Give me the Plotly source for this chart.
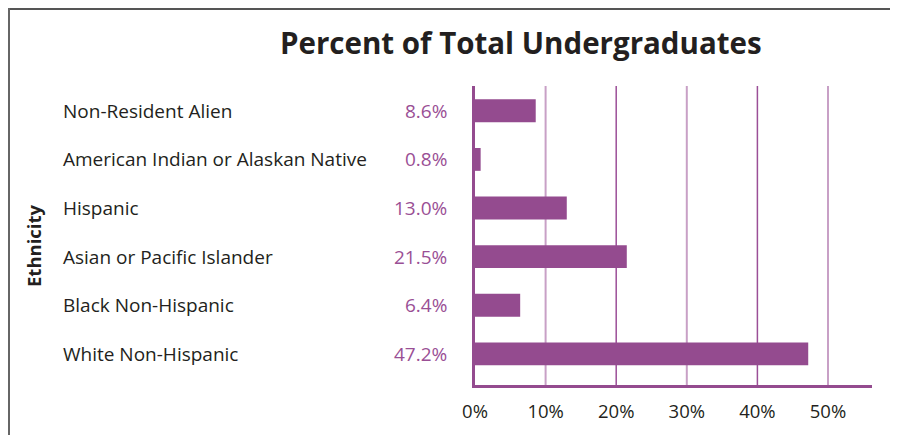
import plotly.graph_objects as go

categories = ["Non-Resident Alien", "American Indian or Alaskan Native", "Hispanic",
              "Asian or Pacific Islander", "Black Non-Hispanic", "White Non-Hispanic"]
values = [8.6, 0.8, 13.0, 21.5, 6.4, 47.2]
value_labels = ["8.6%", "0.8%", "13.0%", "21.5%", "6.4%", "47.2%"]
tick_values = [0, 10, 20, 30, 40, 50]
tick_labels = ["0%", "10%", "20%", "30%", "40%", "50%"]
light_grid = [10, 30, 50]
dark_grid = [20, 40]

OFF = 8  # page body margin
W, H = 890, 427
L, T = 475 - OFF, 86 - OFF
R = W - (872 - OFF)
B = H - (385 - OFF)
PW = W - L - R
PH = H - T - B

BAR = "#944b8f"
FONT = "Open Sans"

def px(xpix):
    return (xpix - OFF - L) / PW

def py(ypix):
    return 1 - (ypix - OFF - T) / PH

fig = go.Figure()
fig.add_trace(go.Bar(y=categories, x=values, orientation="h",
                     marker=dict(color=BAR, line=dict(width=0)),
                     width=0.47, hoverinfo="x+y"))

shapes = []
for v in light_grid:
    shapes.append(dict(type="line", xref="x", yref="paper", x0=v, x1=v, y0=0, y1=1,
                       line=dict(color="#c8a0c6", width=2), layer="below"))
for v in dark_grid:
    shapes.append(dict(type="line", xref="x", yref="paper", x0=v, x1=v, y0=0, y1=1,
                       line=dict(color="#9b4f97", width=1.5), layer="below"))
# frame
shapes.append(dict(type="line", xref="paper", yref="paper", x0=px(8), x1=px(898), y0=py(9), y1=py(9),
                   line=dict(color="#555555", width=2)))
shapes.append(dict(type="line", xref="paper", yref="paper", x0=px(9), x1=px(9), y0=py(8), y1=py(440),
                   line=dict(color="#666666", width=2)))

annotations = []
for c, lab in zip(categories, value_labels):
    annotations.append(dict(x=px(61), xref="paper", y=c, yref="y", text=c, showarrow=False,
                            xanchor="left", yanchor="middle",
                            font=dict(family=FONT, size=19, color="#231f20")))
    annotations.append(dict(x=px(449), xref="paper", y=c, yref="y", text=lab, showarrow=False,
                            xanchor="right", yanchor="middle",
                            font=dict(family=FONT, size=19, color="#9a4f95")))
annotations.append(dict(x=px(33), xref="paper", y=py(246), yref="paper",
                        text="<b>Ethnicity</b>", textangle=-90, showarrow=False,
                        xanchor="center", yanchor="middle",
                        font=dict(family=FONT, size=18.5, color="#231f20")))
annotations.append(dict(x=px(521), xref="paper", y=py(42), yref="paper",
                        text="<b>Percent of Total Undergraduates</b>", showarrow=False,
                        xanchor="center", yanchor="middle",
                        font=dict(family=FONT, size=29.5, color="#231f20")))

fig.update_layout(
    width=W, height=H, margin=dict(l=L, r=R, t=T, b=B),
    paper_bgcolor="white", plot_bgcolor="white", showlegend=False,
    shapes=shapes, annotations=annotations,
    xaxis=dict(range=[0, PW / 7.06], tickvals=tick_values, ticktext=tick_labels,
               showgrid=False, zeroline=False, showline=True, linecolor="#944b8f", linewidth=2.5,
               ticks="", tickfont=dict(family=FONT, size=18.5, color="#231f20"),
               ticklabelstandoff=8, fixedrange=True),
    yaxis=dict(range=[5.64, -0.51], showticklabels=False, showgrid=False, zeroline=False,
               showline=True, linecolor="#944b8f", linewidth=2.5, ticks="", fixedrange=True),
)
fig.write_html("out.html")
